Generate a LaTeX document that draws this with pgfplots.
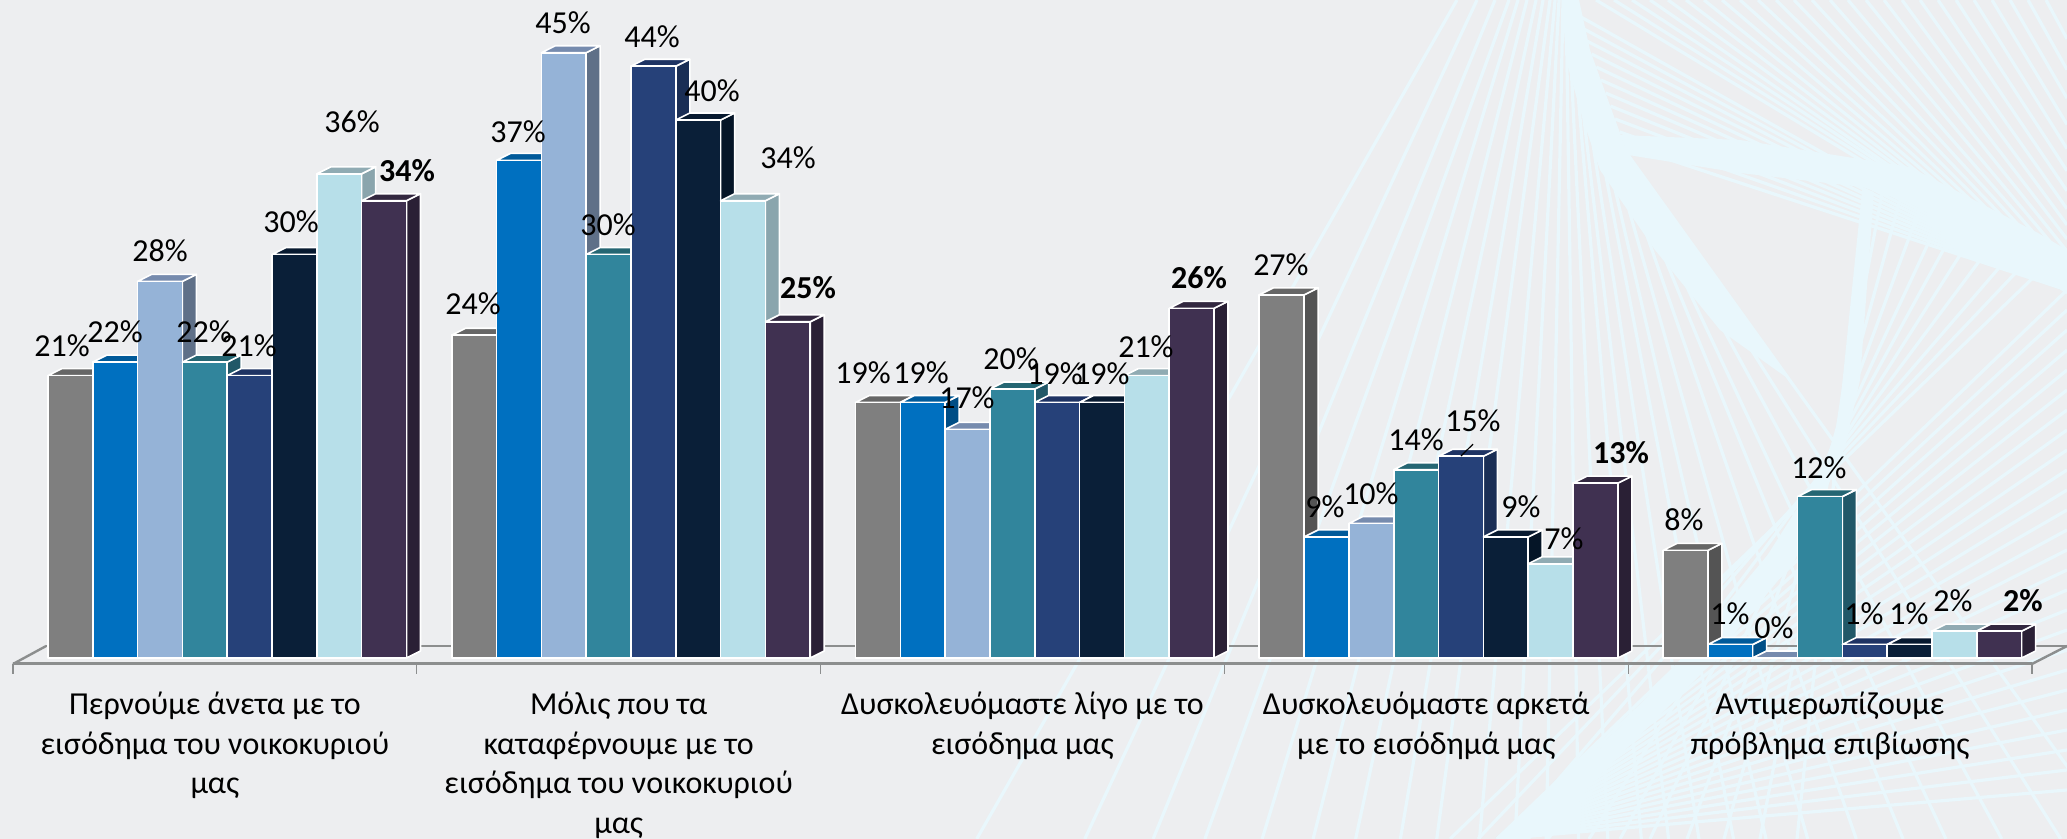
\documentclass[border=0pt]{standalone}
\usepackage{fontspec}
\setmainfont{Carlito}
\usepackage{pgfplots}
\usepackage{pgfplotstable}
\pgfplotsset{compat=1.18}

\definecolor{bgc}{HTML}{EDEEF0}
\definecolor{rayc}{HTML}{E9F7FC}
\definecolor{axc}{HTML}{8C8E8E}
% front / top / side of the eight series
\definecolor{c1}{HTML}{7F7F7F}\definecolor{c1t}{HTML}{666666}\definecolor{c1s}{HTML}{545454}
\definecolor{c2}{HTML}{0070C0}\definecolor{c2t}{HTML}{005A9A}\definecolor{c2s}{HTML}{004E86}
\definecolor{c3}{HTML}{95B3D7}\definecolor{c3t}{HTML}{768BAE}\definecolor{c3s}{HTML}{5F7088}
\definecolor{c4}{HTML}{31859C}\definecolor{c4t}{HTML}{256673}\definecolor{c4s}{HTML}{215868}
\definecolor{c5}{HTML}{264179}\definecolor{c5t}{HTML}{1E3363}\definecolor{c5s}{HTML}{1A2E55}
\definecolor{c6}{HTML}{0A1F38}\definecolor{c6t}{HTML}{081A30}\definecolor{c6s}{HTML}{051527}
\definecolor{c7}{HTML}{B7DFE9}\definecolor{c7t}{HTML}{90ABB3}\definecolor{c7s}{HTML}{8AA5AD}
\definecolor{c8}{HTML}{403151}\definecolor{c8t}{HTML}{332840}\definecolor{c8s}{HTML}{2A2035}

% one bar as a plot mark: origin at the top centre of the front face
\newcommand\cubmark[1]{%
  \pgfdeclareplotmark{cub#1}{%
    \pgfmathsetlengthmacro\barh{\rawv*6.725pt}%
    \path[draw=white,line width=0.8pt,line join=round,fill=c#1s]
      (11.2pt,0pt) -- (18.2pt,3.5pt) -- (18.2pt,3.5pt-\barh) -- (11.2pt,-\barh) -- cycle;
    \path[draw=white,line width=0.8pt,line join=round,fill=c#1t]
      (-11.2pt,0pt) -- (-4.2pt,3.5pt) -- (18.2pt,3.5pt) -- (11.2pt,0pt) -- cycle;
    \path[draw=white,line width=0.8pt,line join=round,fill=c#1]
      (-11.2pt,0pt) rectangle (11.2pt,-\barh);
  }}
\cubmark{1}\cubmark{2}\cubmark{3}\cubmark{4}\cubmark{5}\cubmark{6}\cubmark{7}\cubmark{8}

\pgfplotstableread{
g s1 s2 s3 s4 s5 s6 s7 s8
0 21 22 28 22 21 30 36 34
1 24 37 45 30 44 40 34 25
2 19 19 17 20 19 19 21 26
3 27 9 10 14 15 9 7 13
4 8 1 0 12 1 1 2 2
}\bars

% label centres, in pixels of the reference
\pgfplotstableread{
px py t
62 345 21
115 331 22
160 250 28
204 331 22
249 345 21
291 221 30
352 121 36
473 303 24
518 131 37
563 22 45
608 224 30
652 36 44
712 90 40
788 157 34
863 372 19
921 372 19
967 397 17
1011 358 20
1055 373 19
1102 373 19
1146 346 21
1281 264 27
1325 506 9
1371 493 10
1416 439 14
1473 420 15
1521 506 9
1564 538 7
1684 519 8
1730 613 1
1774 627 0
1819 467 12
1864 613 1
1909 613 1
1953 600 2
}\labelsreg
\pgfplotstableread{
px py t
407 170 34
808 287 25
1199 277 26
1621 452 13
2023 600 2
}\labelsbold

\newcommand\barseries[2]{%
  \addplot[scatter,only marks,mark=cub#1,
    scatter/@pre marker code/.code={\scope},
    scatter/@post marker code/.code={\endscope},
    visualization depends on={y \as \rawv}]
    table[x expr=\thisrow{g}+#2,y=s#1]{\bars};}

\begin{document}
\begin{tikzpicture}
\useasboundingbox (0,0) rectangle (1033.5pt,419.5pt);
\fill[bgc] (0,0) rectangle (1033.5pt,419.5pt);

% background string-art, coordinates in reference pixels
\begin{scope}[x=0.5pt,y=-0.5pt,yshift=419.5pt,line width=1.6pt,draw=rayc]
\clip (0,0) rectangle (2067,839);
\foreach \xa/\ya/\xb in {1457/0/1228,1477/0/1290,1495/0/1332,1509/0/1364,1518/0/1396,1527/0/1425,
  1536/0/1450,1543/0/1475,1550/0/1496,1555/0/1519,1559/0/1538,1563/0/1555,1566/0/1572,1568/0/1587,
  1570/0/1604,1570/0/1617,1571/0/1632,1572/0/1649,1578/30/1664,1585/55/1683,1593/80/1704,
  1602/105/1723,1611/125/1740,1620/140/1762,1628/155/1783,1628/155/1804}{
  \pgfmathsetmacro\xe{\xa+(\xb-\xa)*((839-\ya)/(400-\ya))}
  \draw (\xa,\ya) -- (\xe,839);
}
\foreach \xt in {1596,1614,...,2060}{
  \pgfmathsetmacro\sl{0.6+pow((\xt-1590)/470,1.3)*1.3}
  \pgfmathsetmacro\ye{(2067-\xt)*\sl}
  \draw (\xt,0) -- (2067,\ye);
}
\foreach \ya in {15,28,...,155}{
  \pgfmathsetmacro\xa{1572+\ya/155*56}
  \draw (\xa,\ya) -- (2067,290);
}
\foreach \xa/\ya/\xb/\yb in {1864/188/1797/839,1882/194/1760/839,1900/200/1724/839,1920/208/1687/839,
  1940/218/1650/839,1957/225/1620/839,1974/233/1589/839,1992/244/1548/839,2010/255/1507/839,
  2024/264/1478/839,2038/273/1450/839}{
  \draw (\xa,\ya) -- (\xb,\yb);
}
\foreach \ya in {290,310,...,800}{
  \draw (2067,\ya) -- (1497,839);
}
\fill[rayc] (1562,0) -- (1579,0) -- (1590,50) -- (1608,100) -- (1628,155) -- (1698,252) -- (1790,380)
  -- (1720,330) -- (1655,250) -- (1600,170) -- (1583,120) -- (1566,60) -- cycle;
\fill[rayc] (1628,155) -- (1740,173) -- (1862,187) -- (1910,203) -- (2038,273) -- (2067,293)
  -- (2067,250) -- (2038,233) -- (1910,167) -- (1740,140) -- (1620,135) -- cycle;
\fill[rayc] (1864,188) -- (1874,192) -- (1860,380) -- (1845,447) -- (1795,560) -- (1700,675)
  -- (1600,775) -- (1530,839) -- (1500,839) -- (1590,760) -- (1680,660) -- (1780,540)
  -- (1833,447) -- (1843,380) -- cycle;
\end{scope}

\begin{axis}[
    at={(6.5pt,87.5pt)}, anchor=south west,
    scale only axis, width=1009.5pt, height=331.5pt,
    xmin=-0.5, xmax=4.5, ymin=-0.446, ymax=48.85,
    clip=false, clip mode=individual,
    axis y line=none,
    axis x line=bottom,
    x axis line style={-,draw=axc,line width=1.5pt},
    xtick={0,1,2,3,4},
    minor xtick={-0.5,0.5,1.5,2.5,3.5,4.5},
    major tick length=0pt,
    minor tick length=5pt,
    tick align=outside,
    minor tick style={draw=axc,line width=0.6pt},
    xticklabels={{Περνούμε άνετα με το\\εισόδημα του νοικοκυριού\\μας},
      {Μόλις που τα\\καταφέρνουμε με το\\εισόδημα του νοικοκυριού\\μας},
      {Δυσκολευόμαστε λίγο με το\\εισόδημα μας},
      {Δυσκολευόμαστε αρκετά\\με το εισόδημά μας},
      {Αντιμερωπίζουμε\\πρόβλημα επιβίωσης}},
    xticklabel style={align=center,anchor=north,yshift=-10.5pt,
      font=\fontsize{16}{19.75}\selectfont},
]
% floor edges behind the bars
\addplot[axc,line width=1.2pt] coordinates {(-0.418,0.89) (4.587,0.89)};
\addplot[axc,line width=1.2pt] coordinates {(-0.5,-0.446) (-0.418,0.89)};
\addplot[axc,line width=1.2pt] coordinates {(4.5,-0.446) (4.587,0.89)};

\barseries{1}{-0.358}
\barseries{2}{-0.247}
\barseries{3}{-0.136}
\barseries{4}{-0.025}
\barseries{5}{0.086}
\barseries{6}{0.197}
\barseries{7}{0.308}
\barseries{8}{0.419}

% leader line of the 15% label
\addplot[black,line width=0.6pt] coordinates {(3.116,15.9) (3.086,15.02)};

\addplot[only marks,mark=none,point meta=explicit symbolic,
    nodes near coords={\pgfplotspointmeta\%},
    every node near coord/.append style={anchor=center,inner sep=0pt,black,
      font=\fontsize{16}{18}\selectfont}]
  table[x expr=(\thisrow{px}-13)/403.8-0.5,y expr=(657-\thisrow{py})/13.45,meta=t]{\labelsreg};
\addplot[only marks,mark=none,point meta=explicit symbolic,
    nodes near coords={\pgfplotspointmeta\%},
    every node near coord/.append style={anchor=center,inner sep=0pt,black,
      font=\fontsize{16}{18}\selectfont\bfseries}]
  table[x expr=(\thisrow{px}-13)/403.8-0.5,y expr=(657-\thisrow{py})/13.45,meta=t]{\labelsbold};
\end{axis}
\end{tikzpicture}
\end{document}
